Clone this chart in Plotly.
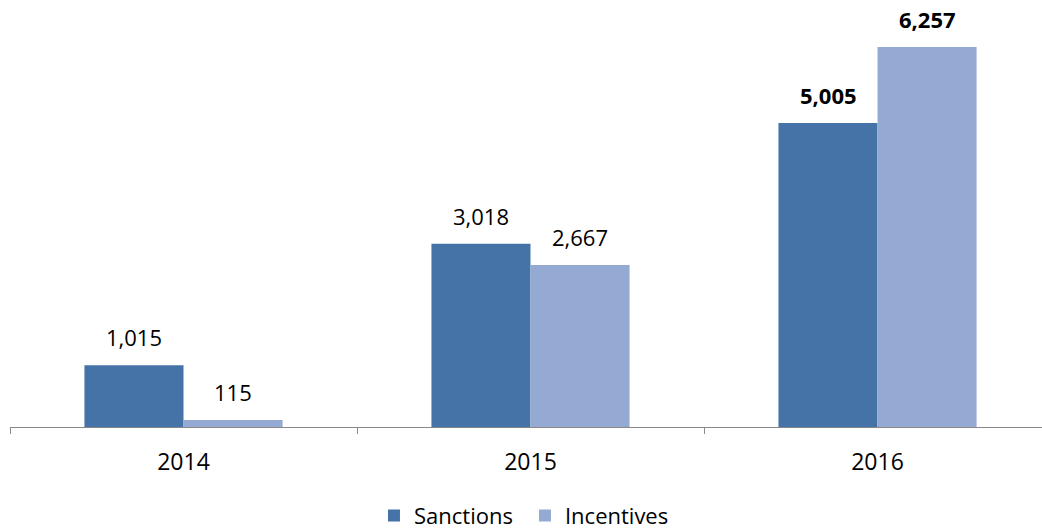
import plotly.graph_objects as go

# Values per year
years = ["2014", "2015", "2016"]
sanctions = [1015, 3018, 5005]
incentives = [115, 2667, 6257]
bold_years = ["2016"]

series_names = ["Sanctions", "Incentives"]
colors = ["#4673A7", "#95AAD2"]

FONT = "Open Sans"

fig = go.Figure()
for name, vals, col in zip(series_names, [sanctions, incentives], colors):
    fig.add_trace(go.Bar(
        name=name, x=years, y=vals,
        marker=dict(color=col, line=dict(width=0)),
    ))

# value labels above each bar (x given as category index)
for vals, shift in [(sanctions, -49.5), (incentives, 49.5)]:
    for i, (yr, v) in enumerate(zip(years, vals)):
        txt = f"{v:,}"
        if yr in bold_years:
            txt = f"<b>{txt}</b>"
        fig.add_annotation(
            x=i, y=v, xref="x", yref="y", text=txt, showarrow=False,
            xshift=shift, yshift=11, yanchor="bottom",
            font=dict(family=FONT, size=22, color="#000000"),
        )

fig.update_layout(
    width=1042, height=529,
    margin=dict(l=10, r=0, t=10, b=102, autoexpand=False),
    plot_bgcolor="white", paper_bgcolor="white",
    barmode="group", bargap=0.429, bargroupgap=0,
    font=dict(family=FONT, size=22, color="#000000"),
    showlegend=True,
    legend=dict(
        orientation="h", x=0.499, xanchor="center",
        yref="container", y=0.025, yanchor="middle",
        font=dict(family=FONT, size=22, color="#000000"),
        itemwidth=30, entrywidth=106, entrywidthmode="pixels",
    ),
    xaxis=dict(
        type="category", range=[-0.5, 2.474],
        showline=True, linecolor="#888888", linewidth=1,
        ticks="outside", tickson="boundaries", ticklen=6,
        tickcolor="#888888", tickwidth=1,
        ticklabelstandoff=14, automargin=False,
        showgrid=False, zeroline=False,
        tickfont=dict(family=FONT, size=23, color="#000000"),
    ),
    yaxis=dict(
        range=[0, 6867], visible=False, showgrid=False, zeroline=False,
        automargin=False,
    ),
)

fig.write_html("out.html")
